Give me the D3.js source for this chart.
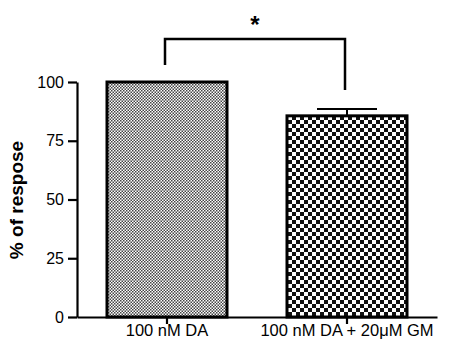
<!DOCTYPE html>
<html><head><meta charset="utf-8">
<script src="https://cdn.jsdelivr.net/npm/d3@7"></script>
<style>body{margin:0;background:#fff}svg{display:block}</style>
</head><body>
<script>
const categories = ["100 nM DA", "100 nM DA + 20\u03bcM GM"];
const values = [100, 85.6];
const errors = [0, 2.9];
const yTicks = [0, 25, 50, 75, 100];
const yLabel = "% of respose";
const sigMark = "*";

const W = 449, H = 346;
const svg = d3.select("body").append("svg").attr("width", W).attr("height", H);
const font = "'Liberation Sans', Arial, sans-serif";

const defs = svg.append("defs");
const p1 = defs.append("pattern").attr("id","fine").attr("patternUnits","userSpaceOnUse").attr("width",3).attr("height",3);
p1.append("rect").attr("width",3).attr("height",3).attr("fill","#fff");
p1.append("rect").attr("width",1.5).attr("height",1.5).attr("fill","#444");
p1.append("rect").attr("x",1.5).attr("y",1.5).attr("width",1.5).attr("height",1.5).attr("fill","#444");
const p2 = defs.append("pattern").attr("id","coarse").attr("patternUnits","userSpaceOnUse").attr("width",8).attr("height",8);
p2.append("rect").attr("width",8).attr("height",8).attr("fill","#fff");
p2.append("rect").attr("width",4).attr("height",4).attr("fill","#111");
p2.append("rect").attr("x",4).attr("y",4).attr("width",4).attr("height",4).attr("fill","#111");

const x = d3.scaleBand().domain(categories).range([77, 437]).paddingInner(1/3).paddingOuter(1/6);
const y = d3.scaleLinear().domain([0, 100]).range([317, 82]);

// bars
svg.selectAll("rect.bar").data(categories).enter().append("rect")
  .attr("class","bar")
  .attr("x", d => x(d))
  .attr("y", (d,i) => y(values[i]))
  .attr("width", x.bandwidth())
  .attr("height", (d,i) => y(0) - y(values[i]))
  .attr("fill", (d,i) => i === 0 ? "url(#fine)" : "url(#coarse)")
  .attr("stroke", "#000").attr("stroke-width", 3);

// error bars (upper only)
categories.forEach((c, i) => {
  if (!errors[i]) return;
  const cx = x(c) + x.bandwidth()/2;
  svg.append("line").attr("x1",cx).attr("x2",cx).attr("y1",y(values[i])).attr("y2",y(values[i]+errors[i]))
    .attr("stroke","#000").attr("stroke-width",2);
  svg.append("line").attr("x1",cx-30).attr("x2",cx+30).attr("y1",y(values[i]+errors[i])).attr("y2",y(values[i]+errors[i]))
    .attr("stroke","#000").attr("stroke-width",2);
});

// y axis
const ya = svg.append("g").attr("transform","translate(77,0)")
  .call(d3.axisLeft(y).tickValues(yTicks).tickSize(9).tickPadding(4).tickSizeOuter(0));
ya.select(".domain").attr("stroke","#000").attr("stroke-width",2.2);
ya.selectAll(".tick line").attr("stroke","#000").attr("stroke-width",2.2);
ya.selectAll(".tick text").attr("font-family",font).attr("font-size",16).attr("fill","#000");

// x axis
const xa = svg.append("g").attr("transform","translate(0,317)")
  .call(d3.axisBottom(x).tickSize(7).tickPadding(6).tickSizeOuter(0));
xa.select(".domain").attr("stroke","#000").attr("stroke-width",2.2);
xa.selectAll(".tick line").attr("stroke","#000").attr("stroke-width",2.2);
xa.selectAll(".tick text").attr("font-family",font).attr("font-size",16.5).attr("fill","#000")
  .attr("y", 19).attr("dy", 0);

// y label
svg.append("text").attr("transform","translate(23,200) rotate(-90)")
  .attr("text-anchor","middle").attr("font-family",font).attr("font-weight","bold")
  .attr("font-size",19).text(yLabel);

// significance bracket
const c1 = x(categories[0]) + x.bandwidth()/2 - 2;
const c2 = x(categories[1]) + x.bandwidth()/2 - 2;
const yTop = 39;
svg.append("path")
  .attr("d", `M${c1},65 V${yTop} H${c2} V90`)
  .attr("fill","none").attr("stroke","#000").attr("stroke-width",2.5);
svg.append("text").attr("x",(c1+c2)/2).attr("y",33).attr("text-anchor","middle")
  .attr("font-family",font).attr("font-weight","bold").attr("font-size",24).text(sigMark);
</script>
</body></html>
